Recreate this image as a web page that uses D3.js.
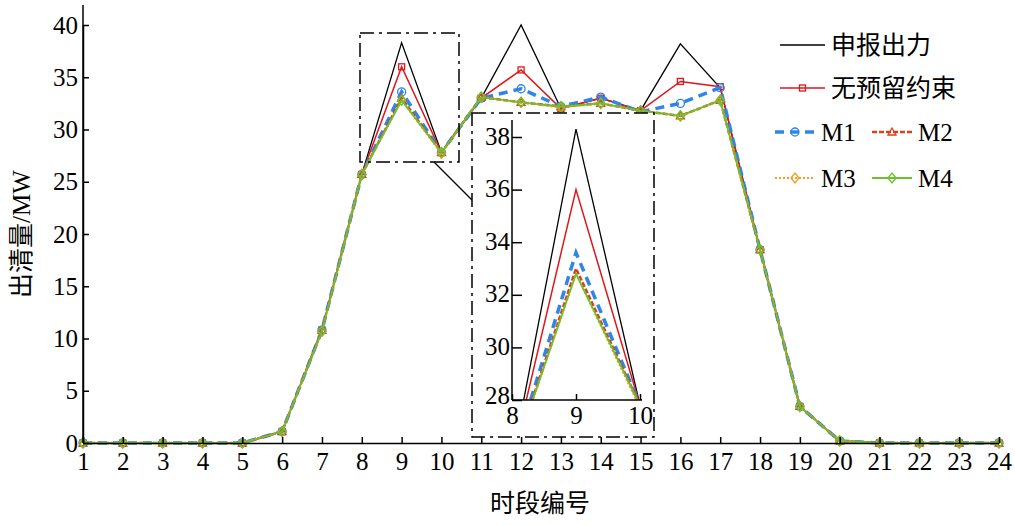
<!DOCTYPE html><html><head><meta charset="utf-8"><script src="https://cdn.jsdelivr.net/npm/d3@7"></script>
<style>body{margin:0;background:#fff}text{font-family:"Liberation Serif","Noto Sans CJK SC",serif;}</style></head><body><svg id="c" width="1015" height="526"></svg><script>
const hours=d3.range(1,25);
const declared=[0,0,0,0,0,1.1,10.8,25.7,38.3,27.8,33,40,32,33,31.8,38.2,34,18.5,3.5,0.2,0,0,0,0];
const noReserve=[0,0,0,0,0,1.1,10.8,25.7,36.0,27.8,33,35.7,32,33,31.8,34.6,34.1,18.5,3.5,0.2,0,0,0,0];
const m1=[0,0,0,0,0,1.1,10.8,25.7,33.6,27.8,33,33.9,32.2,33.1,31.7,32.5,34.0,18.5,3.5,0.2,0,0,0,0];
const m2=[0,0,0,0,0,1.1,10.8,25.7,33.0,27.8,33.1,32.6,32.2,32.5,31.8,31.3,32.8,18.5,3.5,0.2,0,0,0,0];
const m3=[0,0,0,0,0,1.1,10.7,25.7,32.8,27.7,33.1,32.6,32.1,32.5,31.8,31.3,32.8,18.5,3.5,0.2,0,0,0,0];
const m4=[0,0,0,0,0,1.1,10.7,25.7,32.8,27.8,33.1,32.6,32.2,32.5,31.8,31.3,32.8,18.5,3.5,0.2,0,0,0,0];
const yTicks=[0,5,10,15,20,25,30,35,40];
const insetYTicks=[28,30,32,34,36,38];
const insetXTicks=[8,9,10];
const series=[
 {name:"申报出力",v:declared,c:"#000",w:1.3,dash:null,m:null},
 {name:"无预留约束",v:noReserve,c:"#e0161b",w:1.5,dash:null,m:"square"},
 {name:"M1",v:m1,c:"#2f86e8",w:3.5,dash:"9,6",m:"circle"},
 {name:"M2",v:m2,c:"#d9411e",w:2.5,dash:"5,2",m:"triangle"},
 {name:"M3",v:m3,c:"#f0a020",w:2,dash:"2,2",m:"diamond"},
 {name:"M4",v:m4,c:"#6cc22c",w:1.8,dash:null,m:"diamond"}];
const svg=d3.select("#c");
const x=d3.scaleLinear().domain([1,24]).range([83,999]);
const y=d3.scaleLinear().domain([0,40]).range([443,25]);
const g=svg.append("g");
function drawSeries(par,xs,ys,clip,marks){
 series.forEach(s=>{
  const line=d3.line().x((d,i)=>xs(hours[i])).y(d=>ys(d));
  const p=par.append("path").attr("d",line(s.v)).attr("fill","none").attr("stroke",s.c).attr("stroke-width",s.w).attr("stroke-linejoin","miter");
  if(s.dash)p.attr("stroke-dasharray",s.dash);
  if(clip)p.attr("clip-path",clip);
  if(marks&&s.m){s.v.forEach((d,i)=>{marker(par,s,xs(hours[i]),ys(d),clip);});}
 });
}
function marker(par,s,cx,cy,clip){
 let e;
 if(s.m==="circle")e=par.append("circle").attr("cx",cx).attr("cy",cy).attr("r",4);
 else if(s.m==="square")e=par.append("rect").attr("x",cx-3).attr("y",cy-3).attr("width",6).attr("height",6);
 else if(s.m==="triangle")e=par.append("path").attr("d",`M${cx},${cy-4}L${cx+4},${cy+3}L${cx-4},${cy+3}Z`);
 else e=par.append("path").attr("d",`M${cx},${cy-5}L${cx+4},${cy}L${cx},${cy+5}L${cx-4},${cy}Z`);
 e.attr("fill","none").attr("stroke",s.c).attr("stroke-width",1.3);
 if(clip)e.attr("clip-path",clip);
}
drawSeries(g,x,y,null,true);
const ax=svg.append("g").attr("transform","translate(0,443)").call(d3.axisBottom(x).tickValues(hours).tickSizeInner(-6).tickSizeOuter(0).tickFormat(d3.format("d")));
const ay=svg.append("g").attr("transform","translate(83,0)").call(d3.axisLeft(y).tickValues(yTicks).tickSizeInner(-6).tickSizeOuter(0));
[ax,ay].forEach(a=>{a.selectAll("path,line").attr("stroke","#000").attr("stroke-width",1.5);a.selectAll("text").attr("font-size",25).attr("fill","#000").style("font-family","Liberation Serif");});
ax.selectAll("text").attr("dy","0.95em");
ay.selectAll("text").attr("dx","-2");
svg.append("line").attr("x1",83).attr("x2",83).attr("y1",5).attr("y2",443).attr("stroke","#000").attr("stroke-width",1.5);
svg.append("text").attr("x",540).attr("y",512).attr("text-anchor","middle").attr("font-size",25).text("时段编号");
svg.append("text").attr("transform","translate(30,234) rotate(-90)").attr("text-anchor","middle").attr("font-size",25).text("出清量/MW");
svg.append("rect").attr("x",360).attr("y",33).attr("width",99).attr("height",129).attr("fill","none").attr("stroke","#000").attr("stroke-width",1.5).attr("stroke-dasharray","14,5,3,5");
svg.append("line").attr("x1",434).attr("y1",162).attr("x2",472).attr("y2",200).attr("stroke","#000").attr("stroke-width",1.3);
svg.append("rect").attr("x",472).attr("y",113).attr("width",182).attr("height",324).attr("fill","#fff").attr("stroke","#000").attr("stroke-width",1.5).attr("stroke-dasharray","14,5,3,5");
const xi=d3.scaleLinear().domain([8,10]).range([512,640]);
const yi=d3.scaleLinear().domain([28,38]).range([400,137]);
svg.append("clipPath").attr("id","ic").append("rect").attr("x",512).attr("y",120).attr("width",130).attr("height",280);
const gi=svg.append("g");
drawSeries(gi,xi,yi,"url(#ic)",false);
const iax=svg.append("g").attr("transform","translate(0,400)").call(d3.axisBottom(xi).tickValues(insetXTicks).tickSizeInner(-6).tickSizeOuter(0).tickFormat(d3.format("d")));
const iay=svg.append("g").attr("transform","translate(512,0)").call(d3.axisLeft(yi).tickValues(insetYTicks).tickSizeInner(-10).tickSizeOuter(0));
iax.select("path").attr("d","M512,0H642");
iay.select("path").attr("d","M0,120V400");
[iax,iay].forEach(a=>{a.selectAll("path,line").attr("stroke","#000").attr("stroke-width",1.5);a.selectAll("text").attr("font-size",25).attr("fill","#000").style("font-family","Liberation Serif");});
iax.selectAll("text").attr("dy","0.85em");
iay.selectAll("text").attr("dx","1").attr("dy","0.28em");
iay.selectAll(".tick").filter(d=>d===28).select("text").attr("dy","0.15em");
const leg=[[0,780,45],[1,780,88],[2,775,132],[3,872,132],[4,775,178],[5,872,178]];
leg.forEach(([i,lx,ly])=>{
 const s=series[i];
 const len=(i<2)?45:40;
 const l=svg.append("line").attr("x1",lx).attr("x2",lx+len).attr("y1",ly).attr("y2",ly).attr("stroke",s.c).attr("stroke-width",s.w);
 if(s.dash)l.attr("stroke-dasharray",s.dash);
 if(s.m)marker(svg,s,lx+len/2,ly,null);
 svg.append("text").attr("x",lx+len+6).attr("y",ly+9).attr("font-size",25).text(s.name);
});
</script></body></html>
